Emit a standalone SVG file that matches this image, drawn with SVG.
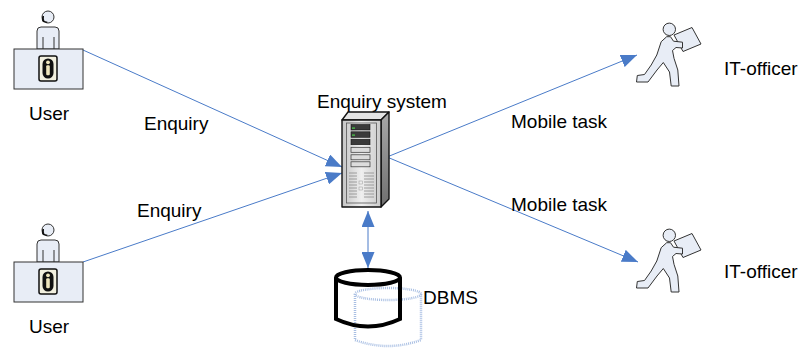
<svg xmlns="http://www.w3.org/2000/svg" width="803" height="350" viewBox="0 0 803 350">
  <style>
    .lbl { font-family: "Liberation Sans", Arial, sans-serif; font-size: 19px; fill: #000; }
    .conn { stroke: #4a7bc8; stroke-width: 1; fill: none; }
    .pale { fill: #e8edf6; stroke: #333; stroke-width: 1; }
    .dark { stroke: #111; stroke-width: 1.4; stroke-linejoin: round; }
  </style>
  <defs>
    <marker id="head" markerUnits="userSpaceOnUse" markerWidth="17" markerHeight="13" refX="16" refY="6.5" orient="auto-start-reverse">
      <path d="M0,0 L16,6.5 L0,13 z" fill="#4a7bc8"/>
    </marker>
    <linearGradient id="front" x1="0" y1="0" x2="1" y2="0">
      <stop offset="0" stop-color="#c4c4c4"/>
      <stop offset="0.5" stop-color="#efefef"/>
      <stop offset="1" stop-color="#cacaca"/>
    </linearGradient>
    <linearGradient id="side" x1="0" y1="0" x2="0" y2="1">
      <stop offset="0" stop-color="#a8a8a8"/>
      <stop offset="1" stop-color="#6f6f6f"/>
    </linearGradient>

    <!-- seated operator at a desk with info sign -->
    <g id="operator">
      <path class="pale" d="M37,49 V31 Q37,27 41,27 H55 Q59,27 59,31 V49 z"/>
      <line x1="43" y1="37" x2="43" y2="49" stroke="#333"/>
      <line x1="54" y1="37" x2="54" y2="49" stroke="#333"/>
      <circle class="pale" cx="48" cy="17" r="6"/>
      <path d="M42.5,16 Q41,20 43,22 L47,23 L47.5,21.8 L44.5,21 Q43.5,19 44,16 z" fill="#111"/>
      <rect class="pale" x="14" y="49" width="69" height="40" stroke="#555"/>
      <rect x="39" y="56" width="18" height="25" rx="2" fill="#f2f0df" stroke="#111" stroke-width="1.5"/>
      <rect x="42.5" y="58.5" width="11" height="20" rx="5.5" fill="#111"/>
      <circle cx="48" cy="62.3" r="1.9" fill="#efe6bd"/>
      <rect x="46.2" y="65.2" width="3.6" height="10" rx="1.2" fill="#efe6bd"/>
    </g>

    <!-- courier running with a parcel -->
    <g id="courier">
      <path class="pale" stroke="#222" d="M674,35 L692,27.5 L701,44 L683,51.5 z"/>
      <path class="pale" stroke="#222" stroke-linejoin="round" d="M666.7,36.7 L661.2,41.7 L656.8,55 L651.2,65 L644.5,74.5 L637.3,75.5 L636.5,82 L648,82 L657,70 L663.3,62.5 L669.5,72 L671.2,86 L679,86 L677.8,70 L674,58.3 L672.5,50.5 L676,47.5 L682.5,48 L682.5,42.2 L673.5,41.2 L670.5,36.7 z"/>
      <circle class="pale" stroke="#222" cx="669.3" cy="29.3" r="6.2"/>
    </g>
  </defs>

  <!-- connectors -->
  <g id="connectors">
    <line class="conn" x1="83" y1="50" x2="342" y2="167" marker-end="url(#head)"/>
    <line class="conn" x1="83" y1="262" x2="342" y2="173" marker-end="url(#head)"/>
    <line class="conn" x1="387" y1="157" x2="637" y2="55" marker-end="url(#head)"/>
    <line class="conn" x1="387" y1="157" x2="638" y2="262" marker-end="url(#head)"/>
    <line class="conn" x1="368" y1="211" x2="368" y2="268" marker-start="url(#head)" marker-end="url(#head)"/>
  </g>

  <g id="user-top">
    <use href="#operator"/>
    <text class="lbl" x="29" y="120">User</text>
  </g>
  <g id="user-bottom">
    <use href="#operator" transform="translate(0,213)"/>
    <text class="lbl" x="29" y="333">User</text>
  </g>

  <g id="enquiry-labels">
    <text class="lbl" x="144" y="130">Enquiry</text>
    <text class="lbl" x="137" y="217">Enquiry</text>
  </g>

  <!-- tower server -->
  <g id="enquiry-system">
    <text class="lbl" x="317" y="108">Enquiry system</text>
    <path d="M342,120 L348,112 L389,112 L381,120 z" fill="#e4e4e4" class="dark"/>
    <path d="M381,120 L389,112 L389,199 L381,207 z" fill="url(#side)" class="dark"/>
    <rect x="342" y="120" width="39" height="87" fill="url(#front)" class="dark"/>
    <rect x="346.5" y="123" width="30" height="80" fill="none" stroke="#555" stroke-width="0.8"/>
    <rect x="351" y="124.5" width="19" height="5.5" fill="#3a3a3a" stroke="#111" stroke-width="0.6"/>
    <rect x="352" y="127.5" width="3" height="1.2" fill="#4ad04a"/>
    <rect x="351" y="131.8" width="19" height="5.5" fill="#3a3a3a" stroke="#111" stroke-width="0.6"/>
    <rect x="352" y="134.5" width="3" height="1.2" fill="#4ad04a"/>
    <rect x="351" y="139.2" width="19" height="5.5" fill="#3a3a3a" stroke="#111" stroke-width="0.6"/>
    <rect x="351" y="147.3" width="19" height="5" fill="#dcdcdc" stroke="#333" stroke-width="0.7"/>
    <rect x="351" y="154.8" width="19" height="5" fill="#dcdcdc" stroke="#333" stroke-width="0.7"/>
    <rect x="351" y="161.8" width="19" height="5" fill="#dcdcdc" stroke="#333" stroke-width="0.7"/>
    <g stroke="#8a8a8a" stroke-width="0.8">
      <line x1="349" y1="173" x2="357" y2="173"/><line x1="364" y1="173" x2="374" y2="173"/>
      <line x1="349" y1="176" x2="357" y2="176"/><line x1="364" y1="176" x2="374" y2="176"/>
      <line x1="349" y1="179" x2="357" y2="179"/><line x1="364" y1="179" x2="374" y2="179"/>
      <line x1="349" y1="182" x2="357" y2="182"/><line x1="364" y1="182" x2="374" y2="182"/>
      <line x1="349" y1="185" x2="357" y2="185"/><line x1="364" y1="185" x2="374" y2="185"/>
      <line x1="349" y1="188" x2="357" y2="188"/><line x1="364" y1="188" x2="374" y2="188"/>
      <line x1="349" y1="191" x2="357" y2="191"/><line x1="364" y1="191" x2="374" y2="191"/>
      <line x1="349" y1="194" x2="357" y2="194"/><line x1="364" y1="194" x2="374" y2="194"/>
      <line x1="349" y1="197" x2="357" y2="197"/><line x1="364" y1="197" x2="374" y2="197"/>
    </g>
    <rect x="359" y="181" width="3.5" height="3" fill="#eee" stroke="#999" stroke-width="0.5"/>
    <rect x="359" y="187" width="3.5" height="3" fill="#eee" stroke="#999" stroke-width="0.5"/>
  </g>

  <!-- database cylinder with its faint shadow copy -->
  <g id="dbms">
    <g fill="none" stroke="#a9bfe3" stroke-width="2.5" stroke-dasharray="1 1">
      <ellipse cx="388" cy="294" rx="33" ry="6"/>
      <path d="M355,294 V340 Q388,352 421,340 V294"/>
    </g>
    <g fill="none" stroke="#000" stroke-width="4">
      <ellipse cx="368" cy="277.5" rx="32" ry="7.5"/>
      <path d="M336,277.5 V319 Q368,334 400,319 V277.5"/>
    </g>
    <text class="lbl" x="423" y="304">DBMS</text>
  </g>

  <g id="mobile-labels">
    <text class="lbl" x="511" y="128">Mobile task</text>
    <text class="lbl" x="511" y="211">Mobile task</text>
  </g>

  <g id="officer-top">
    <use href="#courier"/>
    <text class="lbl" x="724" y="75">IT-officer</text>
  </g>
  <g id="officer-bottom">
    <use href="#courier" transform="translate(0,206)"/>
    <text class="lbl" x="724" y="278">IT-officer</text>
  </g>
</svg>
